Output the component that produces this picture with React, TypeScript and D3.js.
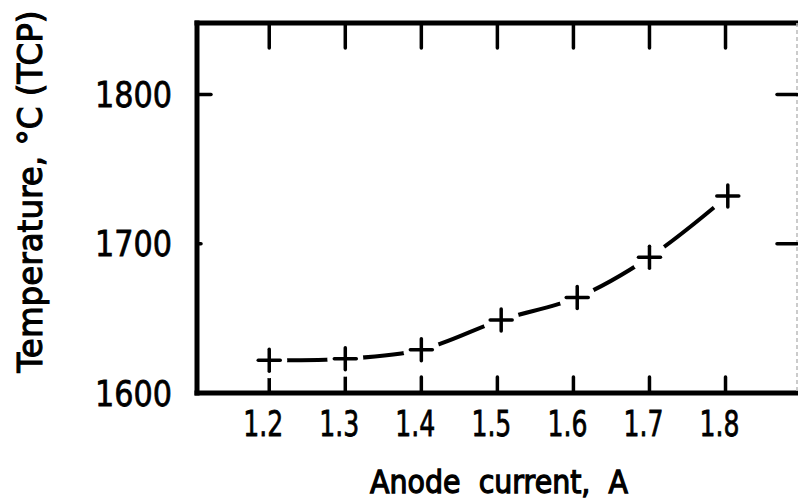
import React from "react";
import * as d3 from "d3";

// Anode current (A) and thermocouple temperature (°C)
const currents = [1.2, 1.3, 1.4, 1.505, 1.605, 1.7, 1.803];
const temperatures = [1622, 1623, 1629, 1649, 1664, 1691, 1732];

const xTicks = [1.2, 1.3, 1.4, 1.5, 1.6, 1.7, 1.8];
const xTickLabels = ["1.2", "1.3", "1.4", "1.5", "1.6", "1.7", "1.8"];
const yTicks = [1600, 1700, 1800];
const yTickLabels = ["1600", "1700", "1800"];
const rightTicks = [1700, 1800];

const W = 798;
const H = 504;
const frame = { left: 197, right: 797, top: 23, bottom: 393 };

export default function App() {
  const x = d3.scaleLinear().domain([1.105, 1.894]).range([frame.left, frame.right]);
  const y = d3.scaleLinear().domain([1600, 1848]).range([frame.bottom, frame.top]);

  const pts: [number, number][] = currents.map((c, i) => [x(c), y(temperatures[i])]);
  const line = d3.line<[number, number]>().curve(d3.curveCatmullRom.alpha(0.5));
  const path = line(pts) || "";

  const font = "'DejaVu Sans', sans-serif";
  const arm = 11;

  return (
    <svg
      width={W}
      height={H}
      viewBox={`0 0 ${W} ${H}`}
      style={{ position: "absolute", left: 0, top: 0, background: "#fff" }}
    >
      {/* frame */}
      <g stroke="#000" strokeWidth={5} strokeLinecap="square" fill="none">
        <line x1={frame.left} y1={frame.top} x2={W} y2={frame.top} />
        <line x1={frame.left} y1={frame.top} x2={frame.left} y2={frame.bottom} />
        <line x1={frame.left} y1={frame.bottom} x2={W} y2={frame.bottom} />
      </g>
      <line
        x1={frame.right}
        y1={frame.top}
        x2={frame.right}
        y2={frame.bottom}
        stroke="#bbb"
        strokeWidth={1.5}
        strokeDasharray="4 3"
      />

      {/* ticks */}
      <g stroke="#000" strokeWidth={3.5} strokeLinecap="round">
        {xTicks.map((t) => (
          <g key={t}>
            <line x1={x(t)} y1={frame.top} x2={x(t)} y2={frame.top + 25} />
            <line x1={x(t)} y1={frame.bottom} x2={x(t)} y2={frame.bottom - 16} />
          </g>
        ))}
        <line x1={frame.left} y1={y(1800)} x2={frame.left + 14} y2={y(1800)} />
        <line x1={frame.left} y1={y(1700)} x2={frame.left + 4} y2={y(1700)} />
        {rightTicks.map((t) => (
          <line key={t} x1={frame.right - 20} y1={y(t)} x2={frame.right} y2={y(t)} />
        ))}
      </g>

      {/* tick labels */}
      <g fontFamily={font} fontSize={36} fill="#000" stroke="#000" strokeWidth={0.8}>
        {xTicks.map((t, i) => (
          <text
            key={t}
            x={x(t) - 6}
            y={436}
            textAnchor="middle"
            textLength={40}
            lengthAdjust="spacingAndGlyphs"
          >
            {xTickLabels[i]}
          </text>
        ))}
        {yTicks.map((t, i) => (
          <text
            key={t}
            x={172}
            y={y(t) + 12.5}
            textAnchor="end"
            textLength={77}
            lengthAdjust="spacingAndGlyphs"
          >
            {yTickLabels[i]}
          </text>
        ))}
      </g>

      {/* fitted curve, broken around each measured point */}
      <path d={path} fill="none" stroke="#000" strokeWidth={4} strokeLinecap="round" />
      <g fill="#fff">
        {pts.map((p, i) => (
          <circle key={i} cx={p[0]} cy={p[1]} r={18} />
        ))}
      </g>

      {/* measured points */}
      <g stroke="#000" strokeWidth={3.5} strokeLinecap="round">
        {pts.map((p, i) => (
          <g key={i}>
            <line x1={p[0] - arm} y1={p[1]} x2={p[0] + arm} y2={p[1]} />
            <line x1={p[0]} y1={p[1] - arm} x2={p[0]} y2={p[1] + arm} />
          </g>
        ))}
      </g>

      {/* axis titles */}
      <text
        x={370}
        y={493}
        fontFamily={font}
        fontSize={32}
        stroke="#000"
        strokeWidth={1.3}
        textLength={258}
        lengthAdjust="spacingAndGlyphs"
        style={{ whiteSpace: "pre" }}
      >
        {"Anode  current,  A"}
      </text>
      <text
        transform="translate(42,191.5) rotate(-90)"
        textAnchor="middle"
        fontFamily={font}
        fontSize={33}
        stroke="#000"
        strokeWidth={1.1}
        textLength={362}
        lengthAdjust="spacingAndGlyphs"
      >
        Temperature, °C (TCP)
      </text>
    </svg>
  );
}
